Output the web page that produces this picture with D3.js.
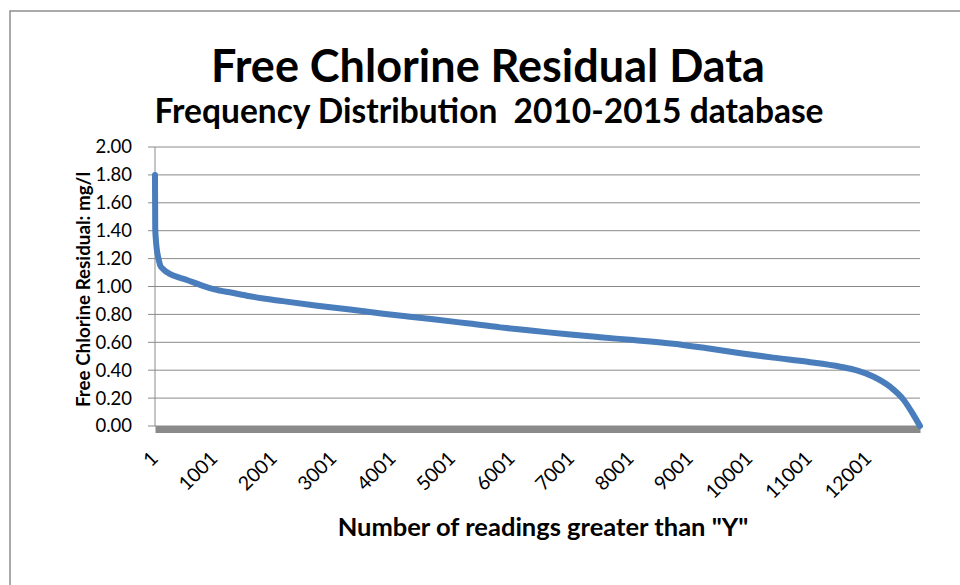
<!DOCTYPE html>
<html>
<head>
<meta charset="utf-8">
<script src="https://cdn.jsdelivr.net/npm/d3@7"></script>
<style>
  html, body { margin: 0; padding: 0; background: #fff; }
  svg { display: block; }
  text { font-family: Lato, "Open Sans", sans-serif; fill: #000; }
</style>
</head>
<body>
<svg id="chart" width="960" height="585"></svg>
<script>
// ---- data ----
const titleText = "Free Chlorine Residual Data";
const subtitleText = "Frequency Distribution  2010-2015 database";
const yAxisTitle = "Free Chlorine Residual: mg/l";
const xAxisTitle = "Number of readings greater than \"Y\"";

// reading rank (number of readings greater than Y) and chlorine residual (mg/l)
const readingRank = [1, 2, 5, 15, 30, 60, 90, 150, 250, 400, 550, 760, 1000, 1300, 1600,
  2150, 2730, 3280, 3840, 4250, 4680, 5250, 5810, 6360, 6940, 7490, 8050, 8720, 9290,
  9850, 10400, 10980, 11530, 11820, 12090, 12370, 12590, 12760, 12870];
const chlorineResidual = [1.80, 1.67, 1.42, 1.34, 1.27, 1.20, 1.15, 1.12, 1.09, 1.065, 1.045, 1.012, 0.98, 0.955, 0.93,
  0.895, 0.862, 0.835, 0.805, 0.785, 0.765, 0.736, 0.707, 0.683, 0.657, 0.636, 0.616, 0.59, 0.557,
  0.522, 0.49, 0.46, 0.425, 0.397, 0.353, 0.28, 0.19, 0.08, 0.00];

const xTickValues = [1, 1001, 2001, 3001, 4001, 5001, 6001, 7001, 8001, 9001, 10001, 11001, 12001];
const yTickValues = [0, 0.2, 0.4, 0.6, 0.8, 1.0, 1.2, 1.4, 1.6, 1.8, 2.0];
const totalReadings = 12870;

// ---- layout ----
const svg = d3.select("#chart");
const plot = { left: 155, right: 920, top: 147, bottom: 426 };

const x = d3.scaleLinear().domain([1, totalReadings]).range([plot.left, plot.right]);
const y = d3.scaleLinear().domain([0, 2]).range([plot.bottom, plot.top]);

// outer chart border
svg.append("rect")
  .attr("x", 10).attr("y", 11).attr("width", 970).attr("height", 600)
  .attr("fill", "#fff").attr("stroke", "#8e8e8e").attr("stroke-width", 1.5);

// titles
svg.append("text").attr("x", 488).attr("y", 82).attr("text-anchor", "middle")
  .attr("font-size", 45).attr("font-weight", 700).text(titleText);
svg.append("text").attr("x", 489).attr("y", 123).attr("text-anchor", "middle")
  .attr("font-size", 33.5).attr("font-weight", 700).style("white-space", "pre").text(subtitleText);

// gridlines
svg.append("g").selectAll("line").data(yTickValues).join("line")
  .attr("x1", plot.left - 7).attr("x2", plot.right)
  .attr("y1", d => y(d)).attr("y2", d => y(d))
  .attr("stroke", "#8a8a8a").attr("stroke-width", 1);

// y axis
const yAxis = d3.axisLeft(y).tickValues(yTickValues).tickFormat(d3.format(".2f")).tickSize(0).tickPadding(23);
const gy = svg.append("g").attr("transform", `translate(${plot.left},0)`).call(yAxis);
gy.select(".domain").remove();
gy.selectAll("text").attr("font-size", 18.5).attr("font-family", "Lato, sans-serif").attr("fill", "#000");
svg.append("line").attr("x1", plot.left).attr("x2", plot.left)
  .attr("y1", plot.top).attr("y2", plot.bottom).attr("stroke", "#8a8a8a").attr("stroke-width", 1);

// x axis (thick gray baseline)
const xAxis = d3.axisBottom(x).tickValues(xTickValues).tickFormat(d => d).tickSize(0);
const gx = svg.append("g").attr("transform", `translate(0,${plot.bottom + 3})`).call(xAxis);
gx.select(".domain").attr("stroke", "#8a8a8a").attr("stroke-width", 7);
gx.selectAll("text")
  .attr("font-size", 19.5).attr("font-family", "Lato, sans-serif").attr("fill", "#000")
  .attr("text-anchor", "end")
  .attr("dy", "0.35em")
  .attr("transform", `translate(-1,26) rotate(-45)`)
  .attr("y", 0).attr("x", 0);

// data line
const line = d3.line().x((d, i) => x(readingRank[i])).y(d => y(d)).curve(d3.curveMonotoneX);
svg.append("path").datum(chlorineResidual)
  .attr("d", line).attr("fill", "none")
  .attr("stroke", "#4a7dbb").attr("stroke-width", 6)
  .attr("stroke-linejoin", "round").attr("stroke-linecap", "round");

// axis titles
svg.append("text")
  .attr("transform", `translate(90,${(plot.top + plot.bottom) / 2 + 3}) rotate(-90)`)
  .attr("text-anchor", "middle").attr("font-size", 18.8).attr("font-weight", 700).text(yAxisTitle);
svg.append("text").attr("x", 543).attr("y", 536).attr("text-anchor", "middle")
  .attr("font-size", 25.5).attr("font-weight", 700).text(xAxisTitle);
</script>
</body>
</html>
